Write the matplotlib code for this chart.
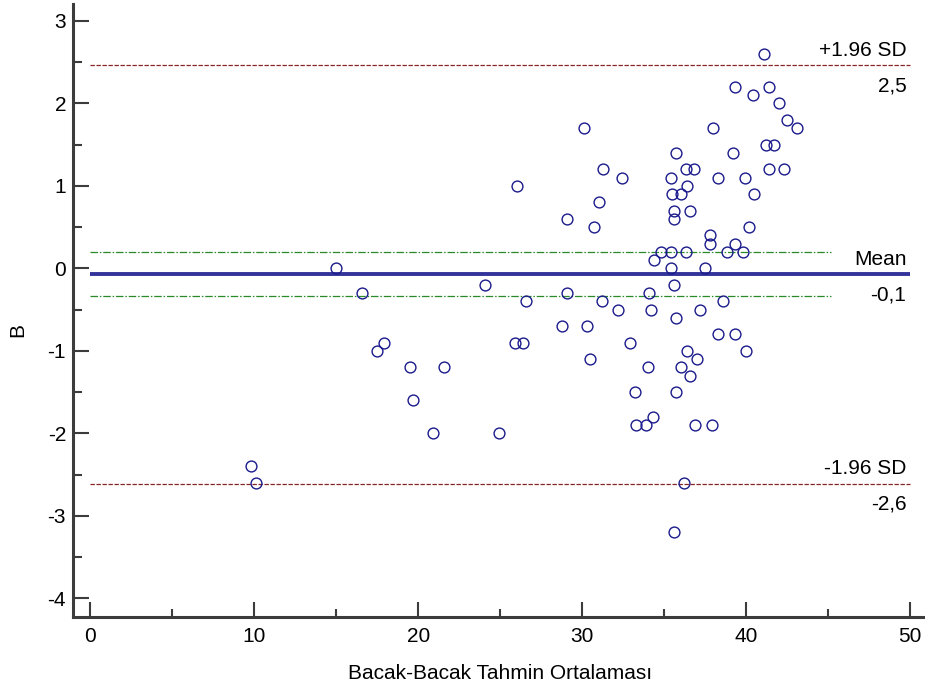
import matplotlib
matplotlib.use("Agg")
import matplotlib.pyplot as plt
from matplotlib.ticker import MultipleLocator

plt.rcParams['font.family'] = ['Liberation Sans', 'DejaVu Sans']
plt.rcParams['axes.unicode_minus'] = False

# ---- data ----
avg = [9.8, 10.1, 15.0, 16.6, 17.5, 17.9, 19.5, 19.7, 20.9, 21.6,
       24.1, 24.9, 25.9, 26.0, 26.4, 26.6, 28.8, 29.1, 29.1, 30.1,
       30.3, 30.5, 30.7, 31.0, 31.2, 31.3, 32.2, 32.4, 32.9, 33.2,
       33.3, 33.9, 34.0, 34.1, 34.2, 34.3, 34.4, 34.8, 35.4, 35.4,
       35.4, 35.5, 35.6, 35.6, 35.6, 35.6, 35.7, 35.7, 35.7, 36.0,
       36.0, 36.2, 36.3, 36.3, 36.4, 36.4, 36.6, 36.6, 36.8, 36.9,
       37.0, 37.2, 37.5, 37.8, 37.8, 37.9, 38.0, 38.3, 38.3, 38.6,
       38.8, 39.2, 39.3, 39.3, 39.3, 39.8, 39.9, 40.0, 40.2, 40.4,
       40.5, 41.1, 41.2, 41.4, 41.4, 41.7, 42.0, 42.3, 42.5, 43.1]
diff = [-2.4, -2.6, 0.0, -0.3, -1.0, -0.9, -1.2, -1.6, -2.0, -1.2,
        -0.2, -2.0, -0.9, 1.0, -0.9, -0.4, -0.7, 0.6, -0.3, 1.7,
        -0.7, -1.1, 0.5, 0.8, -0.4, 1.2, -0.5, 1.1, -0.9, -1.5,
        -1.9, -1.9, -1.2, -0.3, -0.5, -1.8, 0.1, 0.2, 0.2, 1.1,
        0.0, 0.9, 0.7, 0.6, -0.2, -3.2, 1.4, -0.6, -1.5, 0.9,
        -1.2, -2.6, 1.2, 0.2, 1.0, -1.0, 0.7, -1.3, 1.2, -1.9,
        -1.1, -0.5, 0.0, 0.4, 0.3, -1.9, 1.7, 1.1, -0.8, -0.4,
        0.2, 1.4, 2.2, 0.3, -0.8, 0.2, 1.1, -1.0, 0.5, 2.1,
        0.9, 2.6, 1.5, 2.2, 1.2, 1.5, 2.0, 1.2, 1.8, 1.7]

mean_diff = -0.07
upper_loa = 2.46
lower_loa = -2.61
mean_ci = [0.20, -0.34]
line_x = [0, 50]
ci_x = [0, 45.2]
labels_upper = ["+1.96 SD", "2,5"]
labels_mean = ["Mean", "-0,1"]
labels_lower = ["-1.96 SD", "-2,6"]

fig = plt.figure(figsize=(9.25, 6.84), dpi=100)
ax = fig.add_axes([73/925, (684-617)/684, (925-73)/925, (617-4)/684])

axc = '#3c3c3c'
ax.plot(line_x, [upper_loa]*2, color='#8b2525', lw=0.9, dashes=(3.5, 1.3), zorder=2)
ax.plot(line_x, [lower_loa]*2, color='#8b2525', lw=0.9, dashes=(3.5, 1.3), zorder=2)
for c in mean_ci:
    ax.plot(ci_x, [c]*2, color='#2a8a2a', lw=0.9, dashes=(6, 1.5, 1.2, 1.5), zorder=2)
ax.plot(line_x, [mean_diff]*2, color='#333399', lw=2.8, solid_capstyle='butt', zorder=2)

ax.plot(avg, diff, 'o', ms=7.8, mfc='none', mec='#1a1a8c', mew=1.0, zorder=3)

ax.set_xlim(-1.04, 50.9)
ax.set_ylim(-4.227, 3.204)

fs = 15
for yv, (top, bot) in [(upper_loa, labels_upper), (mean_diff, labels_mean), (lower_loa, labels_lower)]:
    ax.annotate(top, xy=(49.76, yv), xytext=(0, 4), textcoords='offset points',
                ha='right', va='bottom', fontsize=fs, color='black')
    ax.annotate(bot, xy=(49.76, yv), xytext=(0, -8), textcoords='offset points',
                ha='right', va='top', fontsize=fs, color='black')

for s in ['top', 'right']:
    ax.spines[s].set_visible(False)
for s in ['left', 'bottom']:
    ax.spines[s].set_linewidth(2.2)
    ax.spines[s].set_color(axc)

ax.xaxis.set_major_locator(MultipleLocator(10))
ax.xaxis.set_minor_locator(MultipleLocator(5))
ax.yaxis.set_major_locator(MultipleLocator(1))
ax.yaxis.set_minor_locator(MultipleLocator(0.5))
ax.set_xticks(range(0, 51, 10))
ax.set_yticks(range(-4, 4))
ax.tick_params(axis='x', which='major', direction='in', length=10.8, width=1.5, color=axc,
               labelsize=fs, pad=7)
ax.tick_params(axis='x', which='minor', direction='in', length=6, width=1.5, color=axc)
ax.tick_params(axis='y', which='major', direction='in', length=11.5, width=1.5, color=axc,
               labelsize=fs, pad=5)
ax.tick_params(axis='y', which='minor', direction='in', length=6.5, width=1.5, color=axc)

fig.text(500/925, 1 - 679/684, "Bacak-Bacak Tahmin Ortalaması", ha='center', va='baseline', fontsize=fs)
fig.text(18/925, 1 - 330/684, "B", ha='center', va='center', rotation=90, fontsize=fs)

fig.savefig("out.png", dpi=100)
